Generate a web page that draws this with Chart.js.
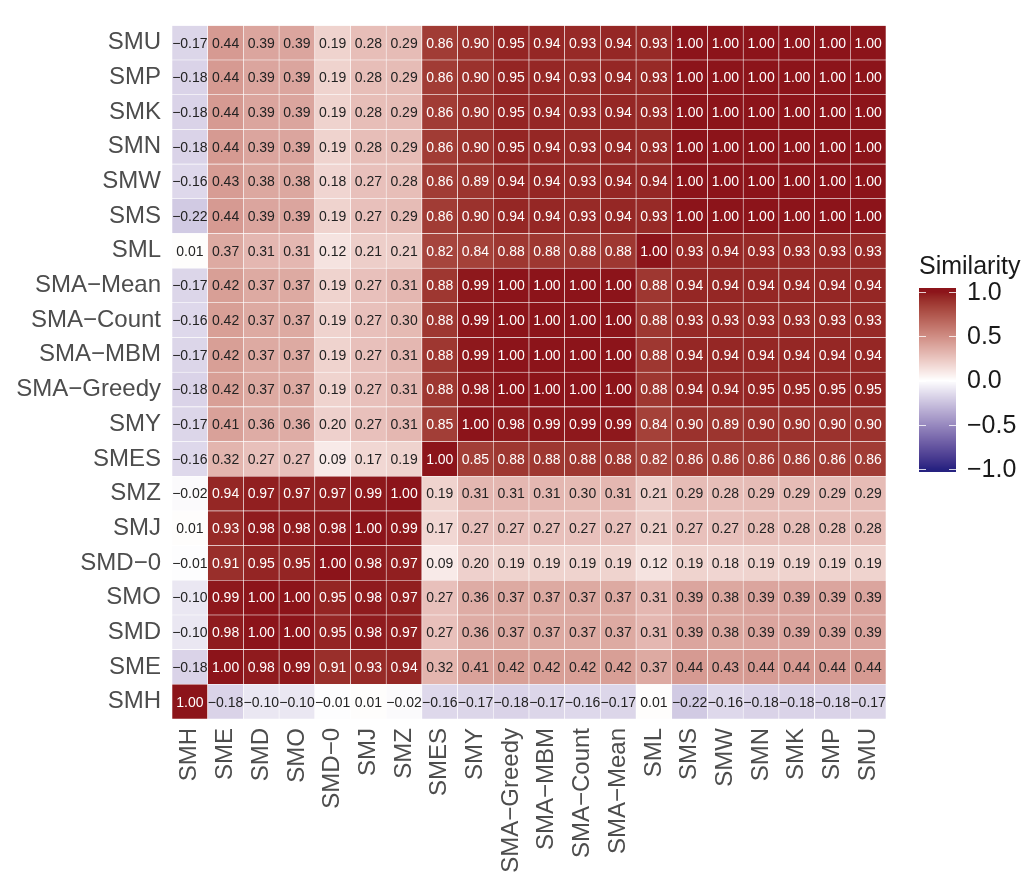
<!DOCTYPE html>
<html lang="en">
<head>
    <meta charset="UTF-8">
    <title>Similarity Heatmap</title>
    <script src="https://cdn.jsdelivr.net/npm/chart.js@4.4.3/dist/chart.umd.min.js"></script>
    <style>
        body {
            margin: 0;
            background: #fff;
        }
        canvas {
            display: block;
        }
    </style>
</head>
<body>
    <canvas id="heatmap" width="1024" height="883"></canvas>

    <script>
        // Columns, left to right
        const columnLabels = ['SMH', 'SME', 'SMD', 'SMO', 'SMD\u22120', 'SMJ', 'SMZ', 'SMES', 'SMY',
            'SMA\u2212Greedy', 'SMA\u2212MBM', 'SMA\u2212Count', 'SMA\u2212Mean', 'SML',
            'SMS', 'SMW', 'SMN', 'SMK', 'SMP', 'SMU'];

        // Rows, top to bottom
        const rowLabels = ['SMU', 'SMP', 'SMK', 'SMN', 'SMW', 'SMS', 'SML', 'SMA\u2212Mean',
            'SMA\u2212Count', 'SMA\u2212MBM', 'SMA\u2212Greedy', 'SMY', 'SMES', 'SMZ', 'SMJ',
            'SMD\u22120', 'SMO', 'SMD', 'SME', 'SMH'];

        // Similarity values, one array per row (same order as rowLabels)
        const similarity = [
            [-0.17, 0.44, 0.39, 0.39, 0.19, 0.28, 0.29, 0.86, 0.90, 0.95, 0.94, 0.93, 0.94, 0.93, 1.00, 1.00, 1.00, 1.00, 1.00, 1.00],
            [-0.18, 0.44, 0.39, 0.39, 0.19, 0.28, 0.29, 0.86, 0.90, 0.95, 0.94, 0.93, 0.94, 0.93, 1.00, 1.00, 1.00, 1.00, 1.00, 1.00],
            [-0.18, 0.44, 0.39, 0.39, 0.19, 0.28, 0.29, 0.86, 0.90, 0.95, 0.94, 0.93, 0.94, 0.93, 1.00, 1.00, 1.00, 1.00, 1.00, 1.00],
            [-0.18, 0.44, 0.39, 0.39, 0.19, 0.28, 0.29, 0.86, 0.90, 0.95, 0.94, 0.93, 0.94, 0.93, 1.00, 1.00, 1.00, 1.00, 1.00, 1.00],
            [-0.16, 0.43, 0.38, 0.38, 0.18, 0.27, 0.28, 0.86, 0.89, 0.94, 0.94, 0.93, 0.94, 0.94, 1.00, 1.00, 1.00, 1.00, 1.00, 1.00],
            [-0.22, 0.44, 0.39, 0.39, 0.19, 0.27, 0.29, 0.86, 0.90, 0.94, 0.94, 0.93, 0.94, 0.93, 1.00, 1.00, 1.00, 1.00, 1.00, 1.00],
            [0.01, 0.37, 0.31, 0.31, 0.12, 0.21, 0.21, 0.82, 0.84, 0.88, 0.88, 0.88, 0.88, 1.00, 0.93, 0.94, 0.93, 0.93, 0.93, 0.93],
            [-0.17, 0.42, 0.37, 0.37, 0.19, 0.27, 0.31, 0.88, 0.99, 1.00, 1.00, 1.00, 1.00, 0.88, 0.94, 0.94, 0.94, 0.94, 0.94, 0.94],
            [-0.16, 0.42, 0.37, 0.37, 0.19, 0.27, 0.30, 0.88, 0.99, 1.00, 1.00, 1.00, 1.00, 0.88, 0.93, 0.93, 0.93, 0.93, 0.93, 0.93],
            [-0.17, 0.42, 0.37, 0.37, 0.19, 0.27, 0.31, 0.88, 0.99, 1.00, 1.00, 1.00, 1.00, 0.88, 0.94, 0.94, 0.94, 0.94, 0.94, 0.94],
            [-0.18, 0.42, 0.37, 0.37, 0.19, 0.27, 0.31, 0.88, 0.98, 1.00, 1.00, 1.00, 1.00, 0.88, 0.94, 0.94, 0.95, 0.95, 0.95, 0.95],
            [-0.17, 0.41, 0.36, 0.36, 0.20, 0.27, 0.31, 0.85, 1.00, 0.98, 0.99, 0.99, 0.99, 0.84, 0.90, 0.89, 0.90, 0.90, 0.90, 0.90],
            [-0.16, 0.32, 0.27, 0.27, 0.09, 0.17, 0.19, 1.00, 0.85, 0.88, 0.88, 0.88, 0.88, 0.82, 0.86, 0.86, 0.86, 0.86, 0.86, 0.86],
            [-0.02, 0.94, 0.97, 0.97, 0.97, 0.99, 1.00, 0.19, 0.31, 0.31, 0.31, 0.30, 0.31, 0.21, 0.29, 0.28, 0.29, 0.29, 0.29, 0.29],
            [0.01, 0.93, 0.98, 0.98, 0.98, 1.00, 0.99, 0.17, 0.27, 0.27, 0.27, 0.27, 0.27, 0.21, 0.27, 0.27, 0.28, 0.28, 0.28, 0.28],
            [-0.01, 0.91, 0.95, 0.95, 1.00, 0.98, 0.97, 0.09, 0.20, 0.19, 0.19, 0.19, 0.19, 0.12, 0.19, 0.18, 0.19, 0.19, 0.19, 0.19],
            [-0.10, 0.99, 1.00, 1.00, 0.95, 0.98, 0.97, 0.27, 0.36, 0.37, 0.37, 0.37, 0.37, 0.31, 0.39, 0.38, 0.39, 0.39, 0.39, 0.39],
            [-0.10, 0.98, 1.00, 1.00, 0.95, 0.98, 0.97, 0.27, 0.36, 0.37, 0.37, 0.37, 0.37, 0.31, 0.39, 0.38, 0.39, 0.39, 0.39, 0.39],
            [-0.18, 1.00, 0.98, 0.99, 0.91, 0.93, 0.94, 0.32, 0.41, 0.42, 0.42, 0.42, 0.42, 0.37, 0.44, 0.43, 0.44, 0.44, 0.44, 0.44],
            [1.00, -0.18, -0.10, -0.10, -0.01, 0.01, -0.02, -0.16, -0.17, -0.18, -0.17, -0.16, -0.17, 0.01, -0.22, -0.16, -0.18, -0.18, -0.18, -0.17]
        ];

        const legendTicks = [1.0, 0.5, 0.0, -0.5, -1.0];

        const FONT = '"Liberation Sans", Arial, sans-serif';

        // --- diverging colour scale (blue - white - red), blended in Lab space ---
        const LOW = [38, 34, 128], MID = [255, 255, 255], HIGH = [140, 20, 26];

        function toLinear(c) {
            c /= 255;
            return c <= 0.04045 ? c / 12.92 : Math.pow((c + 0.055) / 1.055, 2.4);
        }
        function fromLinear(c) {
            c = c <= 0.0031308 ? c * 12.92 : 1.055 * Math.pow(c, 1 / 2.4) - 0.055;
            return Math.round(Math.min(1, Math.max(0, c)) * 255);
        }
        function rgbToLab(rgb) {
            let r = toLinear(rgb[0]), g = toLinear(rgb[1]), b = toLinear(rgb[2]);
            let x = (r * 0.4124 + g * 0.3576 + b * 0.1805) / 0.95047;
            let y = (r * 0.2126 + g * 0.7152 + b * 0.0722);
            let z = (r * 0.0193 + g * 0.1192 + b * 0.9505) / 1.08883;
            const f = t => t > 0.008856 ? Math.cbrt(t) : 7.787 * t + 16 / 116;
            x = f(x); y = f(y); z = f(z);
            return [116 * y - 16, 500 * (x - y), 200 * (y - z)];
        }
        function labToRgb(lab) {
            let y = (lab[0] + 16) / 116;
            let x = lab[1] / 500 + y;
            let z = y - lab[2] / 200;
            const fi = t => t * t * t > 0.008856 ? t * t * t : (t - 16 / 116) / 7.787;
            x = fi(x) * 0.95047; y = fi(y); z = fi(z) * 1.08883;
            const r = x * 3.2406 + y * -1.5372 + z * -0.4986;
            const g = x * -0.9689 + y * 1.8758 + z * 0.0415;
            const b = x * 0.0557 + y * -0.2040 + z * 1.0570;
            return [fromLinear(r), fromLinear(g), fromLinear(b)];
        }
        const labLow = rgbToLab(LOW), labMid = rgbToLab(MID), labHigh = rgbToLab(HIGH);

        function colorFor(v) {
            const t = Math.min(1, Math.abs(v));
            const end = v < 0 ? labLow : labHigh;
            const lab = labMid.map((m, i) => m + (end[i] - m) * t);
            const c = labToRgb(lab);
            return `rgb(${c[0]},${c[1]},${c[2]})`;
        }

        function fmt(v) {
            const s = Math.abs(v).toFixed(2);
            return v < 0 ? '\u2212' + s : s;
        }

        // Chart.js draws stacked datasets bottom-up, so rows are reversed
        const rowsBottomUp = rowLabels.slice().reverse();
        const valuesBottomUp = similarity.slice().reverse();

        const datasets = valuesBottomUp.map((row, r) => ({
            label: rowsBottomUp[r],
            data: row.map(() => 1),          // each tile spans one row unit
            values: row,
            backgroundColor: row.map(colorFor),
            borderColor: '#ffffff',
            borderWidth: 0.6,
            borderSkipped: false,
            barPercentage: 1.0,
            categoryPercentage: 1.0
        }));

        // value text inside every tile
        const cellLabels = {
            id: 'cellLabels',
            afterDatasetsDraw(chart) {
                const ctx = chart.ctx;
                ctx.save();
                ctx.font = '14px ' + FONT;
                ctx.textAlign = 'center';
                ctx.textBaseline = 'middle';
                chart.data.datasets.forEach((ds, i) => {
                    chart.getDatasetMeta(i).data.forEach((bar, j) => {
                        const v = ds.values[j];
                        ctx.fillStyle = v > 0.6 ? '#ffffff' : '#222222';
                        ctx.fillText(fmt(v), bar.x, (bar.y + bar.base) / 2 + 1);
                    });
                });
                ctx.restore();
            }
        };

        // colour bar legend on the right
        const colorBar = {
            id: 'colorBar',
            afterDraw(chart) {
                const ctx = chart.ctx;
                const x0 = 919, w = 37, top = 288, bottom = 472;
                const yTop = 292, yBottom = 469;   // positions of +1 and -1
                const yOf = v => yBottom - (v + 1) / 2 * (yBottom - yTop);
                ctx.save();
                for (let y = top; y < bottom; y++) {
                    const v = Math.max(-1, Math.min(1, (yBottom - (y + 0.5)) / (yBottom - yTop) * 2 - 1));
                    ctx.fillStyle = colorFor(v);
                    ctx.fillRect(x0, y, w, 1);
                }
                ctx.strokeStyle = 'rgba(255,255,255,0.8)';
                ctx.lineWidth = 1;
                legendTicks.forEach(v => {
                    const y = Math.round(yOf(v)) + 0.5;
                    ctx.beginPath();
                    ctx.moveTo(x0, y); ctx.lineTo(x0 + 7, y);
                    ctx.moveTo(x0 + w - 7, y); ctx.lineTo(x0 + w, y);
                    ctx.stroke();
                });
                ctx.fillStyle = '#1a1a1a';
                ctx.font = '25px ' + FONT;
                ctx.textAlign = 'left';
                ctx.textBaseline = 'middle';
                legendTicks.forEach(v => {
                    ctx.fillText(fmt(v).replace(/0$/, ''), x0 + w + 11, yOf(v) + 1);
                });
                ctx.textBaseline = 'alphabetic';
                ctx.fillText('Similarity', x0, 274);
                ctx.restore();
            }
        };

        new Chart(document.getElementById('heatmap'), {
            type: 'bar',
            data: { labels: columnLabels, datasets: datasets },
            options: {
                responsive: false,
                animation: false,
                layout: { padding: { top: 5, right: 138, left: 0, bottom: 0 } },
                plugins: {
                    legend: { display: false },
                    tooltip: { enabled: false }
                },
                scales: {
                    x: {
                        stacked: true,
                        grid: { display: false, drawTicks: false },
                        border: { display: false },
                        ticks: {
                            autoSkip: false,
                            minRotation: 90,
                            maxRotation: 90,
                            padding: 9,
                            color: '#4d4d4d',
                            font: { family: FONT, size: 24 }
                        },
                        afterFit(scale) { scale.height = 164; }
                    },
                    y: {
                        stacked: true,
                        min: 0,
                        max: 20,
                        grid: { display: false, drawTicks: false },
                        border: { display: false },
                        afterBuildTicks(scale) {
                            scale.ticks = rowsBottomUp.map((_, i) => ({ value: i + 0.5 }));
                        },
                        ticks: {
                            padding: 11,
                            color: '#4d4d4d',
                            font: { family: FONT, size: 24 },
                            callback: (value, index) => rowsBottomUp[index]
                        },
                        afterFit(scale) { scale.width = 172; }
                    }
                }
            },
            plugins: [cellLabels, colorBar]
        });
    </script>
</body>
</html>
